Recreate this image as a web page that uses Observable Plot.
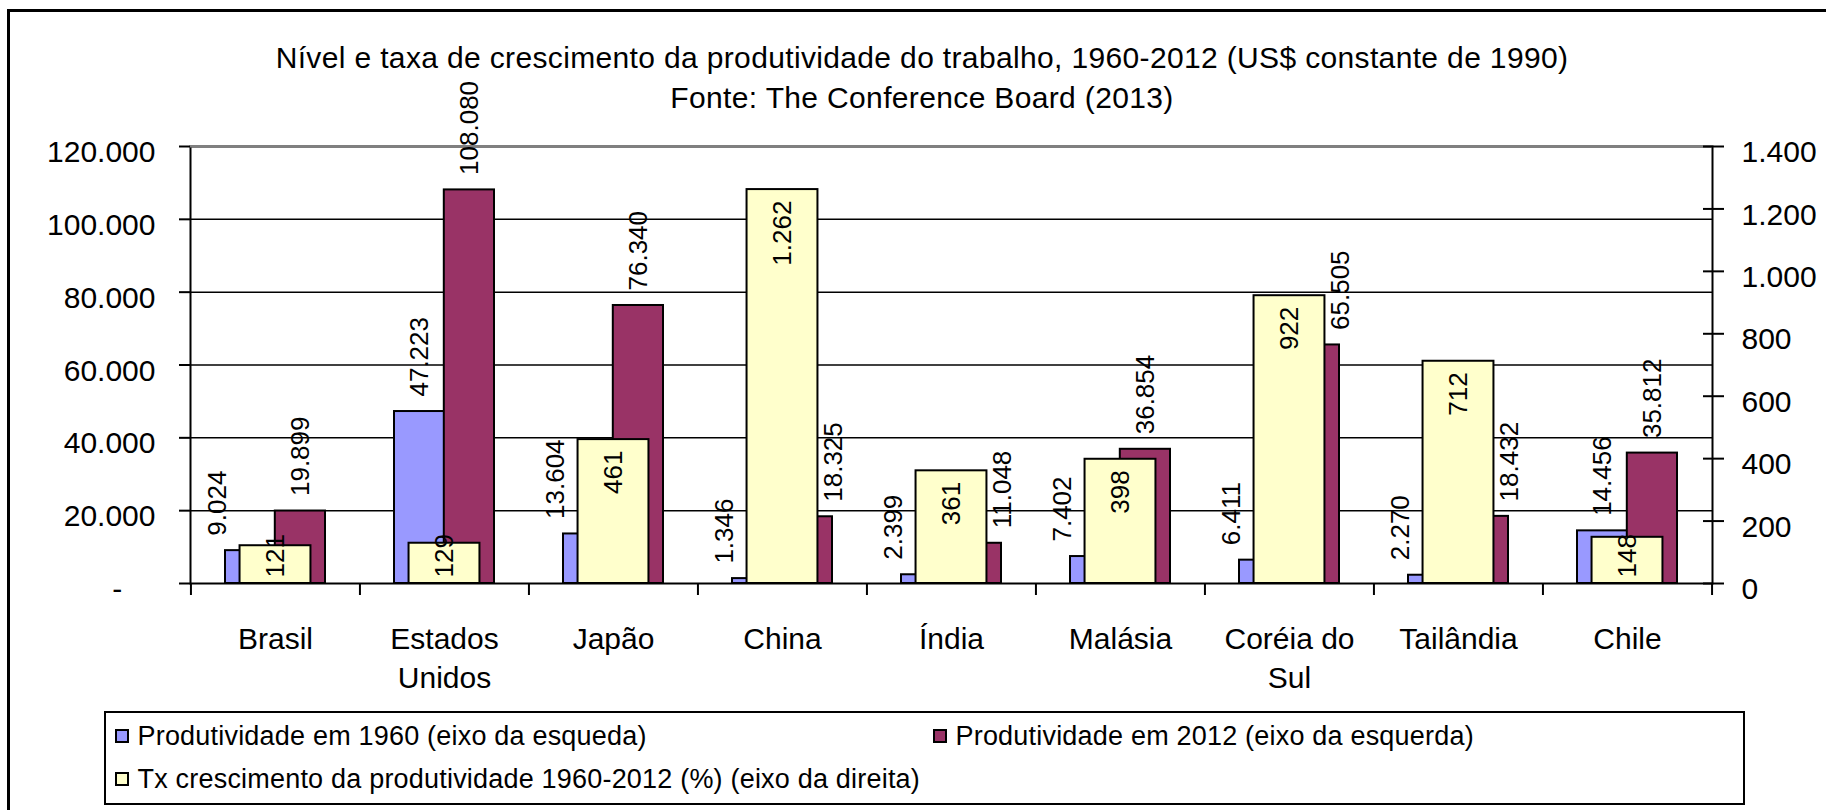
<!DOCTYPE html>
<html>
<head>
<meta charset="utf-8">
<script src="https://cdn.jsdelivr.net/npm/d3@7"></script>
<script src="https://cdn.jsdelivr.net/npm/@observablehq/plot@0.6"></script>
<style>
  html, body { margin: 0; padding: 0; background: #fff; }
  body { font-family: "Liberation Sans", Arial, sans-serif; color: #000; }
  #wrap { position: relative; width: 1826px; height: 810px; overflow: hidden; }
  #border { position: absolute; left: 7px; top: 9px; width: 1900px; height: 900px;
            border-left: 3px solid #000; border-top: 3px solid #000; }
  #chart { position: absolute; left: 0; top: 0; }
  .title { position: absolute; left: 0; width: 1844px; text-align: center;
           font-size: 30px; letter-spacing: 0.35px; height: 36px; line-height: 36px; white-space: nowrap; }
  #legend { position: absolute; left: 104px; top: 711px; width: 1641px; height: 94px;
            box-sizing: border-box; border: 2.5px solid #000; background: #fff; }
  .sw { position: absolute; width: 14px; height: 14px; box-sizing: border-box; border: 2px solid #000; }
  .lt { position: absolute; font-size: 27px; letter-spacing: 0.2px; height: 32px; line-height: 32px; white-space: nowrap; }
</style>
</head>
<body>
<div id="wrap">
  <div id="border"></div>
  <div id="chart"></div>
  <div class="title" style="top:40px">Nível e taxa de crescimento da produtividade do trabalho, 1960-2012 (US$ constante de 1990)</div>
  <div class="title" style="top:80px">Fonte: The Conference Board (2013)</div>
  <div id="legend"></div>
</div>
<script>
// ---- data ----
const countries = ["Brasil", "Estados\nUnidos", "Japão", "China", "Índia", "Malásia", "Coréia do\nSul", "Tailândia", "Chile"];
const prod1960 = [9024, 47223, 13604, 1346, 2399, 7402, 6411, 2270, 14456];
const prod2012 = [19899, 108080, 76340, 18325, 11048, 36854, 65505, 18432, 35812];
const growth = [121, 129, 461, 1262, 361, 398, 922, 712, 148];
const leftTicks = [0, 20000, 40000, 60000, 80000, 100000, 120000];
const rightTicks = [0, 200, 400, 600, 800, 1000, 1200, 1400];
const seriesNames = [
  "Produtividade em 1960 (eixo da esqueda)",
  "Produtividade em 2012 (eixo da esquerda)",
  "Tx crescimento da produtividade 1960-2012 (%) (eixo da direita)"
];
const colors = ["#9999FF", "#993366", "#FFFFCC"];

// ---- layout ----
const W = 1826, H = 710, ML = 190, MR = 114, MT = 146, MB = 127;
const frameH = H - MT - MB;
const step = (W - ML - MR) / countries.length;
const groupW = 99.6, yellowW = 70.5;
const pIn = 1 - groupW / step;
const leftMax = leftTicks[leftTicks.length - 1];
const rightMax = rightTicks[rightTicks.length - 1];
const K = leftMax / rightMax;

const loc = d3.formatLocale({decimal: ",", thousands: ".", grouping: [3], currency: ["", ""]});
const fmt = loc.format(",d");

const rows = countries.map((c, i) => ({c, a: prod1960[i], b: prod2012[i], g: growth[i], gs: growth[i] * K}));
const tol = 5 / frameH;
const crowded = v => d => d[v] / leftMax < d.g / rightMax + tol;
const tallYellow = d => d.g / rightMax * frameH > 60;

const lbl = {rotate: -90, fontSize: 26, textAnchor: "start", dy: -15};

const plot = Plot.plot({
  width: W, height: H,
  marginLeft: ML, marginRight: MR, marginTop: MT, marginBottom: MB,
  style: {fontFamily: "'Liberation Sans', Arial, sans-serif", color: "#000", background: "transparent"},
  x: {domain: countries, paddingInner: pIn, paddingOuter: pIn / 2, axis: null, label: null},
  y: {domain: [0, leftMax], axis: null, label: null},
  marks: [
    Plot.ruleY(leftTicks.slice(1, -1), {stroke: "#000", strokeWidth: 1.5}),
    Plot.barY(rows, {x: "c", y: "a", fill: colors[0], stroke: "#000", strokeWidth: 2, insetRight: groupW / 2}),
    Plot.barY(rows, {x: "c", y: "b", fill: colors[1], stroke: "#000", strokeWidth: 2, insetLeft: groupW / 2}),
    Plot.barY(rows, {x: "c", y: "gs", fill: colors[2], stroke: "#000", strokeWidth: 2,
      insetLeft: (groupW - yellowW) / 2, insetRight: (groupW - yellowW) / 2}),
    Plot.frame({stroke: "#000", strokeWidth: 2}),
    Plot.ruleY([leftMax], {stroke: "#808080", strokeWidth: 2}),
    // category boundary ticks
    Plot.axisX({tickSize: 12, dx: -step / 2, fill: "none", strokeWidth: 2, label: null}),
    Plot.axisX([countries[countries.length - 1]], {tickSize: 12, dx: step / 2, fill: "none", strokeWidth: 2, label: null}),
    // category labels
    Plot.axisX({tickSize: 0, tickPadding: 38, fontSize: 30, lineHeight: 1.3, stroke: "none", label: null}),
    // left axis
    Plot.axisY(leftTicks, {anchor: "left", tickSize: 11, fill: "none", strokeWidth: 2, label: null}),
    Plot.axisY(leftTicks, {anchor: "left", tickSize: 11, tickPadding: 24, stroke: "none", fontSize: 30, dy: 6, label: null,
      tickFormat: d => d === 0 ? "-\u2007\u2007" : fmt(d)}),
    // right axis
    Plot.axisY(rightTicks.map(t => t * K), {anchor: "right", tickSize: 11, fill: "none", strokeWidth: 2, label: null}),
    Plot.axisY(rightTicks.map(t => t * K), {anchor: "right", tickSize: 10, dx: -10, fill: "none", strokeWidth: 2, label: null}),
    Plot.axisY(rightTicks.map(t => t * K), {anchor: "right", tickSize: 11, tickPadding: 18, stroke: "none", fontSize: 30, dy: 6, label: null,
      tickFormat: d => fmt(Math.round(d / K))}),
    // labels: 1960
    Plot.text(rows.filter(d => !crowded("a")(d)), {x: "c", y: "a", text: d => fmt(d.a), ...lbl, dx: -groupW / 4}),
    Plot.text(rows.filter(crowded("a")), {x: "c", y: "a", text: d => fmt(d.a), ...lbl, dx: -58}),
    // labels: 2012
    Plot.text(rows.filter(d => !crowded("b")(d)), {x: "c", y: "b", text: d => fmt(d.b), ...lbl, dx: groupW / 4}),
    Plot.text(rows.filter(crowded("b")), {x: "c", y: "b", text: d => fmt(d.b), ...lbl, dx: 51}),
    // labels: growth
    Plot.text(rows.filter(tallYellow), {x: "c", y: "gs", text: d => fmt(d.g), rotate: -90, fontSize: 26, textAnchor: "end", dy: 11}),
    Plot.text(rows.filter(d => !tallYellow(d)), {x: "c", y: () => 0, text: d => fmt(d.g), rotate: -90, fontSize: 26, textAnchor: "start", dy: -6})
  ]
});
document.getElementById("chart").appendChild(plot);

// ---- legend ----
const legend = document.getElementById("legend");
const items = [
  {i: 0, x: 115, y: 736},
  {i: 1, x: 933, y: 736},
  {i: 2, x: 115, y: 779}
];
for (const it of items) {
  const sw = document.createElement("div");
  sw.className = "sw";
  sw.style.background = colors[it.i];
  sw.style.left = (it.x - 104 - 2.5) + "px";
  sw.style.top = (it.y - 7 - 711 - 2.5) + "px";
  legend.appendChild(sw);
  const t = document.createElement("div");
  t.className = "lt";
  t.textContent = seriesNames[it.i];
  t.style.left = (it.x + 23 - 104 - 2.5) + "px";
  t.style.top = (it.y - 16 - 711 - 2.5) + "px";
  legend.appendChild(t);
}
</script>
</body>
</html>
